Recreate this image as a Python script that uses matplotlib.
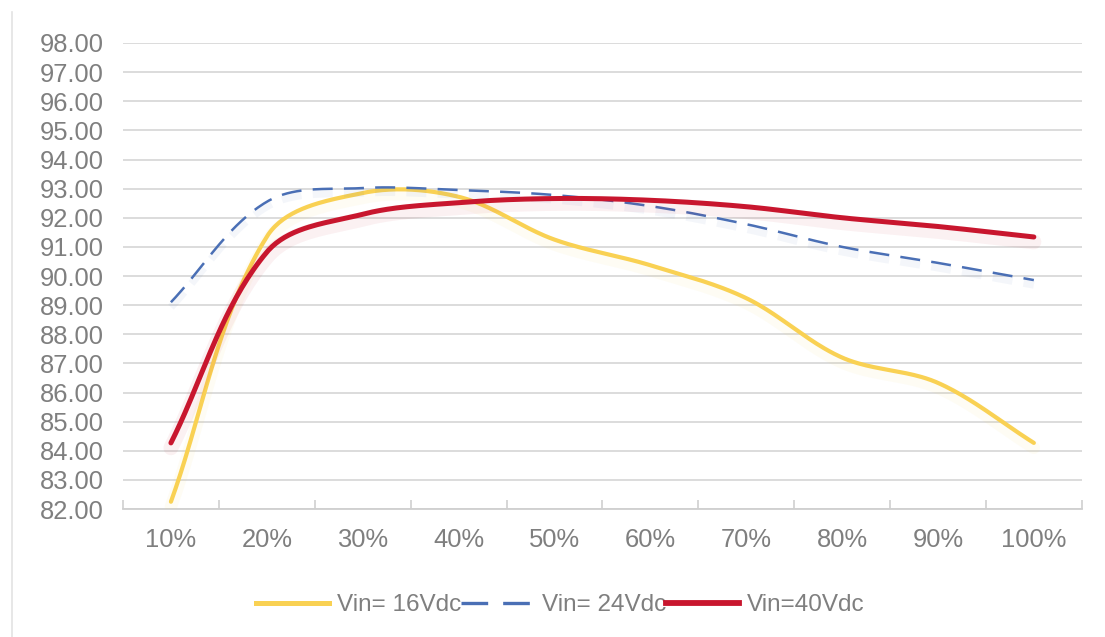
import numpy as np
import matplotlib
matplotlib.use("Agg")
import matplotlib.pyplot as plt
import matplotlib.patheffects as pe
from matplotlib.lines import Line2D

# ----- data -----
loads = ["10%", "20%", "30%", "40%", "50%", "60%", "70%", "80%", "90%", "100%"]
vin16 = [82.25, 91.35, 92.85, 92.72, 91.25, 90.37, 89.24, 87.20, 86.33, 84.27]
vin24 = [89.10, 92.55, 93.02, 92.95, 92.78, 92.40, 91.78, 91.00, 90.45, 89.86]
vin40 = [84.27, 90.82, 92.12, 92.52, 92.66, 92.60, 92.38, 92.00, 91.70, 91.34]

series_names = ["Vin= 16Vdc", "Vin= 24Vdc", "Vin=40Vdc"]
yticks = np.arange(82, 99, 1)

GRAY_TXT = "#7f7f7f"
GRID = "#d9d9d9"

# rough pixel size of one x step / one y unit, used only to shape the smoothing
SX, SY = 96.0, 29.1


def smooth(x, y, n=40, k=1 / 3):
    # bezier smoothing with handles scaled by neighbour distance (excel-ish)
    p = np.column_stack([np.asarray(x, float) * SX, np.asarray(y, float) * SY])
    m = len(p)
    tang = np.zeros_like(p)
    for i in range(m):
        a = p[max(i - 1, 0)]
        b = p[min(i + 1, m - 1)]
        d = b - a
        tang[i] = d / np.linalg.norm(d)
    t = np.linspace(0, 1, n)[:, None]
    out = []
    for i in range(m - 1):
        p1, p2 = p[i], p[i + 1]
        L = np.linalg.norm(p2 - p1)
        c1 = p1 + tang[i] * L * k
        c2 = p2 - tang[i + 1] * L * k
        b = (1 - t) ** 3 * p1 + 3 * (1 - t) ** 2 * t * c1 + 3 * (1 - t) * t ** 2 * c2 + t ** 3 * p2
        out.append(b)
    out = np.vstack(out)
    return out[:, 0] / SX, out[:, 1] / SY


fig = plt.figure(figsize=(11.05, 6.37), dpi=100)
plt.rcParams["font.family"] = ["Liberation Sans", "DejaVu Sans"]
ax = fig.add_axes([0.1113, 0.2009, 0.8677, 0.7316])

xpos = np.arange(len(loads))
styles = [
    dict(color="#f9d153", lw=3.0, ls="-"),
    dict(color="#4a6fb5", lw=1.8, ls=(0, (8, 4.5))),
    dict(color="#c8162e", lw=3.6, ls="-"),
]
handles = []
for vals, st, name in zip([vin16, vin24, vin40], styles, series_names):
    sx, sy = smooth(xpos, vals)
    shadow = [pe.SimpleLineShadow(offset=(0, -3.5), shadow_color=st["color"], alpha=0.06,
                                  linewidth=st["lw"] * 3), pe.Normal()]
    ax.plot(sx, sy, color=st["color"], lw=st["lw"], ls=st["ls"],
            solid_capstyle="round", dash_capstyle="butt", path_effects=shadow,
            label=name, zorder=3)
    handles.append(Line2D([], [], color=st["color"], lw=st["lw"] + 0.6, ls=st["ls"]))

ax.set_xlim(-0.5, len(loads) - 0.5)
ax.set_ylim(82, 98)
ax.set_yticks(yticks)
ax.set_yticklabels([f"{v:.2f}" for v in yticks])
ax.set_xticks(xpos)
ax.set_xticklabels(loads)
ax.set_xticks(np.arange(-0.5, len(loads), 1), minor=True)

ax.grid(axis="y", color=GRID, lw=1.3)
ax.set_axisbelow(True)
for s in ["top", "right", "left"]:
    ax.spines[s].set_visible(False)
ax.spines["bottom"].set_color("#cfcfcf")
ax.spines["bottom"].set_linewidth(1.3)

ax.tick_params(axis="y", length=0, pad=14, labelsize=18.4, labelcolor=GRAY_TXT)
ax.tick_params(axis="x", which="major", length=0, pad=14, labelsize=18.4, labelcolor=GRAY_TXT)
ax.tick_params(axis="x", which="minor", direction="in", length=6.5, width=1.2, color="#cfcfcf")

leg = fig.legend(handles, series_names, loc="center", bbox_to_anchor=(0.507, 0.05),
                 ncol=3, frameon=False, fontsize=17.5, labelcolor=GRAY_TXT,
                 handlelength=3.0, handletextpad=0.3, columnspacing=0.02)

# thin frame line on the left edge
fig.add_artist(Line2D([12 / 1105, 12 / 1105], [0, 1 - 12 / 637], color="#e3e3e3", lw=1.2,
                      transform=fig.transFigure))

fig.savefig("out.png", dpi=100)
